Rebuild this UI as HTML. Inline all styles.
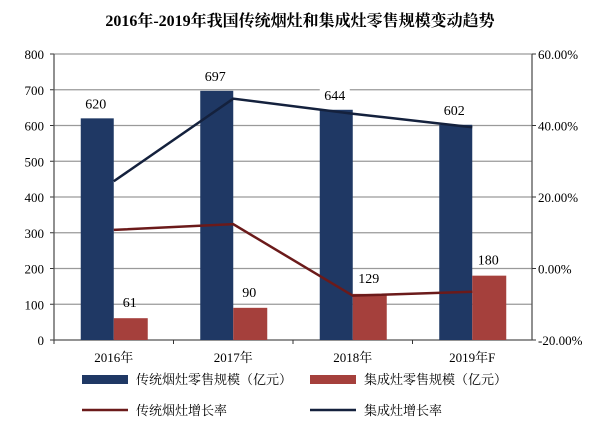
<!DOCTYPE html>
<html><head><meta charset="utf-8"><style>
body{margin:0;background:#fff;}
svg{display:block;font-family:"Liberation Serif","Noto Serif CJK SC",serif;}
</style></head><body>
<svg id="c" width="600" height="426" viewBox="0 0 600 426">
<text x="300" y="26" text-anchor="middle" font-size="16" font-weight="bold">2016年-2019年我国传统烟灶和集成灶零售规模变动趋势</text>
<g id="axes"></g><g id="marks"></g>
<g font-size="13">
<rect x="82" y="375" width="46" height="9" fill="#1f3864"/>
<text x="136" y="384">传统烟灶零售规模（亿元）</text>
<rect x="310" y="375" width="46" height="9" fill="#a5403c"/>
<text x="364" y="384">集成灶零售规模（亿元）</text>
<line x1="82" y1="410" x2="128" y2="410" stroke="#6b1a1a" stroke-width="2.5"/>
<text x="136" y="415">传统烟灶增长率</text>
<line x1="310" y1="410" x2="356" y2="410" stroke="#14213d" stroke-width="2.5"/>
<text x="364" y="415">集成灶增长率</text>
</g>
</svg>
<script>
const categories=["2016年","2017年","2018年","2019年F"];
const traditionalSales=[620,697,644,602];
const integratedSales=[61,90,129,180];
const traditionalGrowth=[10.8,12.4,-7.6,-6.5];
const integratedGrowth=[24.4,47.5,43.3,39.5];
const leftTicks=[0,100,200,300,400,500,600,700,800];
const rightTicks=[-20,0,20,40,60];

const NS="http://www.w3.org/2000/svg";
const X0=54,X1=532,Y0=340,Y1=54;
const band=(X1-X0)/categories.length;
const xc=i=>X0+band*(i+0.5);
const yL=v=>Y0-(v/800)*(Y0-Y1);
const yR=v=>Y0-((v+20)/80)*(Y0-Y1);
function mk(parent,tag,attrs){const e=document.createElementNS(NS,tag);for(const k in attrs)e.setAttribute(k,attrs[k]);document.getElementById(parent).appendChild(e);return e;}
let e;
leftTicks.forEach(t=>{
 if(t>0){
 e=mk("axes","line",{x1:X0,y1:yL(t),x2:X1,y2:yL(t),stroke:"#9a9a9a","stroke-width":"1.3"});
 
 
 }
 mk("axes","line",{x1:X0-4,y1:yL(t),x2:X0,y2:yL(t),stroke:"#333"});
 e=mk("axes","text",{x:X0-10,y:yL(t)+5,"text-anchor":"end","font-size":"13"});e.textContent=t;
 
 
});
e=mk("axes","line",{x1:X0,y1:Y1,x2:X0,y2:Y0,stroke:"#555","stroke-width":"1.3"});


e=mk("axes","line",{x1:X1,y1:Y1,x2:X1,y2:Y0,stroke:"#555","stroke-width":"1.3"});


e=mk("axes","line",{x1:X0,y1:Y0,x2:X1,y2:Y0,stroke:"#555","stroke-width":"1.3"});


rightTicks.forEach(t=>{
 mk("axes","line",{x1:X1,y1:yR(t),x2:X1+4,y2:yR(t),stroke:"#333"});
 e=mk("axes","text",{x:X1+6,y:yR(t)+5,"font-size":"13"});e.textContent=t.toFixed(2)+"%";
 
 
});
const bw=33;
categories.forEach((c,i)=>{
 mk("axes","line",{x1:X0+band*i,y1:Y0,x2:X0+band*i,y2:Y0+4,stroke:"#333"});
 e=mk("axes","text",{x:xc(i),y:Y0+22,"text-anchor":"middle","font-size":"13"});e.textContent=c;
 
 
 e=mk("marks","rect",{x:xc(i)-bw,y:yL(traditionalSales[i]),width:bw,height:Y0-yL(traditionalSales[i]),fill:"#1f3864"});
 
 
 e=mk("marks","rect",{x:xc(i),y:yL(integratedSales[i]),width:bw+1,height:Y0-yL(integratedSales[i]),fill:"#a5403c"});
 
 
});
function line(arr,color,name){
 e=mk("marks","polyline",{points:arr.map((v,i)=>xc(i)+","+yR(v)).join(" "),fill:"none",stroke:color,"stroke-width":"2.5"});
 
 
}
line(traditionalGrowth,"#6b1a1a","line-traditional-growth");
line(integratedGrowth,"#14213d","line-integrated-growth");
categories.forEach((c,i)=>{
 e=mk("marks","rect",{x:xc(i)-33,y:yL(traditionalSales[i])-24,width:30,height:17,fill:"#fff"});
 
 
 e=mk("marks","text",{x:xc(i)-18,y:yL(traditionalSales[i])-10,"text-anchor":"middle","font-size":"14"});e.textContent=traditionalSales[i];
 
 
 e=mk("marks","text",{x:xc(i)+16,y:yL(integratedSales[i])-11,"text-anchor":"middle","font-size":"14"});e.textContent=integratedSales[i];
 
 
});
</script>
</body></html>
